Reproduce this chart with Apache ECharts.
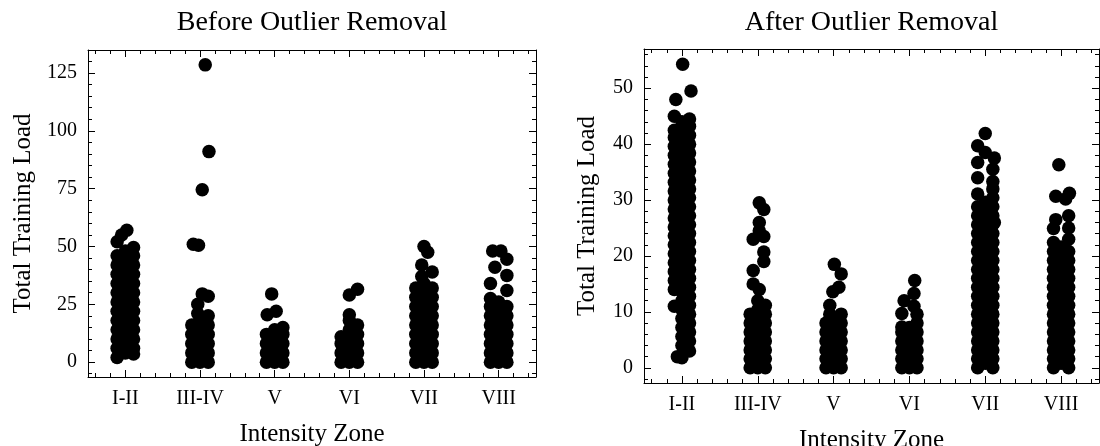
<!DOCTYPE html>
<html><head><meta charset="utf-8">
<script src="https://cdn.jsdelivr.net/npm/echarts@6/dist/echarts.min.js"></script>
<style>html,body{margin:0;padding:0;background:#fff}#c{width:1100px;height:446px}</style>
</head><body><div id="c"></div>
<script>
const categories = ['I-II', 'III-IV', 'V', 'VI', 'VII', 'VIII'];
const titles = ['Before Outlier Removal', 'After Outlier Removal'];
const xLabel = 'Intensity Zone';
const yLabel = 'Total Training Load';
const beforeTicks = [0, 25, 50, 75, 100, 125];
const afterTicks = [0, 10, 20, 30, 40, 50];

// each group: [jitter offset from the category centre, [Total Training Load values]]
const before_I_II = [
  [-0.11, [2, 6, 10, 14, 18, 22, 26, 30, 34, 38, 42, 46, 52]],
  [-0.05, [55]],
  [0, [4, 8, 12, 16, 20, 24, 28, 32, 36, 40, 44, 48]],
  [0.02, [57]],
  [0.11, [3.5, 6, 10, 14, 18, 22, 26, 30, 34, 38, 42, 46, 49.5]]
];
const before_III_IV = [
  [-0.11, [0, 4, 8, 12, 16]],
  [-0.09, [51]],
  [-0.03, [21, 25]],
  [-0.02, [50.5]],
  [0, [0, 2, 6, 10, 14, 18]],
  [0.03, [29.5, 74.5]],
  [0.07, [128.5]],
  [0.11, [0, 4, 8, 12, 16, 20, 28.5]],
  [0.12, [91]]
];
const before_V = [
  [-0.11, [0, 4, 8, 12]],
  [-0.1, [20.5]],
  [-0.04, [29.5]],
  [0, [0, 2, 6, 10, 14]],
  [0.02, [22]],
  [0.11, [0, 4, 8, 12, 15]]
];
const before_VI = [
  [-0.11, [0, 4, 8, 11]],
  [0, [0, 2, 6, 10, 14, 18, 20.5, 29]],
  [0.11, [0, 4, 8, 12, 16, 31.5]]
];
const before_VII = [
  [-0.11, [0, 4, 8, 12, 16, 20, 24, 28, 32]],
  [-0.03, [37, 42]],
  [0, [0, 2, 6, 10, 14, 18, 22, 26, 30, 34, 50]],
  [0.05, [47.5]],
  [0.11, [0, 4, 8, 12, 16, 20, 24, 28, 32, 39]]
];
const before_VIII = [
  [-0.11, [0, 4, 8, 12, 16, 20, 24, 27.5, 34]],
  [-0.08, [48]],
  [-0.05, [41]],
  [0, [0, 2, 6, 10, 14, 18, 22, 26]],
  [0.03, [48]],
  [0.11, [0, 4, 8, 12, 16, 20, 24, 31, 37.5, 44.5]]
];

const after_I_II = [
  [-0.1, [11, 14, 15.6, 17.2, 18.8, 20.4, 22, 23.6, 25.2, 26.8, 28.4, 30, 31.6, 33.2, 34.8, 36.4, 38, 39.6, 41.2, 42.5, 45]],
  [-0.08, [48]],
  [-0.06, [2]],
  [0, [1.8, 4, 5.6, 7.2, 8.8, 10.4, 12, 13.6, 15.2, 16.8, 18.4, 20, 21.6, 23.2, 24.8, 26.4, 28, 29.6, 31.2, 32.8, 34.4, 36, 37.6, 39.2, 40.8, 42.4, 44]],
  [0.01, [54.3]],
  [0.1, [3, 4.8, 6.4, 8, 9.6, 11.2, 12.8, 14.4, 16, 17.6, 19.2, 20.8, 22.4, 24, 25.6, 27.2, 28.8, 30.4, 32, 33.6, 35.2, 36.8, 38.4, 40, 41.6, 43.2, 44.5]],
  [0.12, [49.5]]
];
const after_III_IV = [
  [-0.1, [0, 1.6, 3.2, 4.8, 6.4, 8, 9.6]],
  [-0.06, [15, 17.4, 23]],
  [0, [0, 0.8, 2.4, 4, 5.6, 7.2, 8.8, 10.4, 12]],
  [0.02, [14, 24.5, 26, 29.5]],
  [0.08, [19, 20.7, 23.5, 28.3]],
  [0.1, [0, 1.6, 3.2, 4.8, 6.4, 8, 9.6, 11.2]]
];
const after_V = [
  [-0.1, [0, 1.6, 3.2, 4.8, 6.4, 8]],
  [-0.05, [9.6, 11.2]],
  [-0.01, [13.6]],
  [0, [0, 0.8, 2.4, 4, 5.6, 7.2, 8.8]],
  [0.01, [18.5]],
  [0.07, [14.4]],
  [0.1, [0, 1.6, 3.2, 4.8, 6.4, 8, 9.6, 16.8]]
];
const after_VI = [
  [-0.1, [0, 1.6, 3.2, 4.8, 6.4, 7.3, 9.7]],
  [-0.07, [12]],
  [0, [0, 0.8, 2.4, 4, 5.6, 7.2]],
  [0.06, [11, 13.3]],
  [0.07, [15.6]],
  [0.1, [0, 1.6, 3.2, 4.8, 6.4, 8, 9.6]]
];
const after_VII = [
  [-0.1, [0, 1.6, 3.2, 4.8, 6.4, 8, 9.6, 11.2, 12.8, 14.4, 16, 17.6, 19.2, 20.8, 22.4, 24, 25.6, 27.2, 28.8, 31.1, 34, 36.7, 39.7]],
  [0, [0.8, 2.4, 4, 5.6, 7.2, 8.8, 10.4, 12, 13.6, 15.2, 16.8, 18.4, 20, 21.6, 23.2, 24.8, 26.4, 28, 29.6, 38.5, 41.9]],
  [0.1, [0, 1.6, 3.2, 4.8, 6.4, 8, 9.6, 11.2, 12.8, 14.4, 16, 17.6, 19.2, 20.8, 22.4, 24, 25.6, 27.2, 28.8, 30.4, 32, 33.3, 35.5]],
  [0.12, [26, 37.5]]
];
const after_VIII = [
  [-0.1, [0, 1.6, 3.2, 4.8, 6.4, 8, 9.6, 11.2, 12.8, 14.4, 16, 17.6, 19.2, 20.8, 22.4, 24.9]],
  [-0.07, [26.5, 30.7]],
  [-0.03, [36.3]],
  [0, [0.8, 2.4, 4, 5.6, 7.2, 8.8, 10.4, 12, 13.6, 15.2, 16.8, 18.4, 20, 21.6]],
  [0.06, [30.2]],
  [0.1, [0, 1.6, 3.2, 4.8, 6.4, 8, 9.6, 11.2, 12.8, 14.4, 16, 17.6, 19.2, 20.8, 23, 25, 27.2]],
  [0.11, [31.2]]
];

const beforeGroups = [before_I_II, before_III_IV, before_V, before_VI, before_VII, before_VIII];
const afterGroups = [after_I_II, after_III_IV, after_V, after_VI, after_VII, after_VIII];

const FONT = "'Liberation Serif', 'Times New Roman', serif";
const BLACK = '#000';

function toPoints(groups) {
  const pts = [];
  groups.forEach((cat, i) => cat.forEach(([dx, vals]) => vals.forEach(v => pts.push([i + dx, v]))));
  return pts;
}
function minorValues(lo, hi, step, majorStep) {
  const out = [];
  const start = Math.ceil(lo / step) * step;
  for (let k = 0; start + k * step <= hi + 1e-9; k++) {
    const v = Math.round((start + k * step) * 1000) / 1000;
    const r = v / majorStep;
    if (Math.abs(r - Math.round(r)) > 1e-6) out.push(v);
  }
  return out;
}

const panels = [
  { grid: { left: 88, top: 50, width: 448, height: 327 }, title: titles[0], groups: beforeGroups,
    ticks: beforeTicks, minorStep: 5, majorStep: 25, yNameGap: 52 },
  { grid: { left: 644, top: 49, width: 455, height: 334 }, title: titles[1], groups: afterGroups,
    ticks: afterTicks, minorStep: 2, majorStep: 10, yNameGap: 44 }
];

const grids = [], xAxes = [], yAxes = [], series = [], graphics = [];
const xMajor = categories.map((c, i) => i);
const xMinor = minorValues(-0.5, 5.5, 0.2, 1);
const lineStyle = { color: BLACK, width: 1 };

panels.forEach((p, gi) => {
  grids.push(Object.assign({ containLabel: false, outerBoundsMode: 'none' }, p.grid));
  const pts = toPoints(p.groups);
  const ys = pts.map(d => d[1]);
  const dmin = Math.min(...ys), dmax = Math.max(...ys);
  const pad = 0.05 * (dmax - dmin);
  const ymin = dmin - pad, ymax = dmax + pad;
  const yMinor = minorValues(ymin, ymax, p.minorStep, p.majorStep);

  const xb = { type: 'value', gridIndex: gi, min: -0.5, max: 5.5, splitLine: { show: false } };
  const xi = xAxes.length;
  xAxes.push(Object.assign({}, xb, {
    position: 'bottom',
    axisLine: { show: true, onZero: false, lineStyle },
    axisTick: { show: true, inside: true, length: 7, customValues: xMajor, lineStyle },
    axisLabel: { show: true, customValues: xMajor, formatter: v => categories[Math.round(v)],
      fontSize: 20, fontFamily: FONT, color: BLACK, margin: 12 },
    name: xLabel, nameLocation: 'middle', nameGap: 45, nameMoveOverlap: false,
    nameTextStyle: { fontSize: 25, fontFamily: FONT, color: BLACK }
  }));
  xAxes.push(Object.assign({}, xb, {
    position: 'top', axisLine: { show: true, onZero: false, lineStyle },
    axisTick: { show: true, inside: true, length: 7, customValues: xMajor, lineStyle },
    axisLabel: { show: false, customValues: xMajor }
  }));
  xAxes.push(Object.assign({}, xb, {
    position: 'bottom', axisLine: { show: false, onZero: false },
    axisTick: { show: true, inside: true, length: 4, customValues: xMinor, lineStyle },
    axisLabel: { show: false, customValues: xMinor }
  }));
  xAxes.push(Object.assign({}, xb, {
    position: 'top', axisLine: { show: false, onZero: false },
    axisTick: { show: true, inside: true, length: 4, customValues: xMinor, lineStyle },
    axisLabel: { show: false, customValues: xMinor }
  }));

  const yb = { type: 'value', gridIndex: gi, min: ymin, max: ymax, splitLine: { show: false } };
  const yi = yAxes.length;
  yAxes.push(Object.assign({}, yb, {
    position: 'left',
    axisLine: { show: true, onZero: false, lineStyle },
    axisTick: { show: true, inside: true, length: 7, customValues: p.ticks, lineStyle },
    axisLabel: { show: true, customValues: p.ticks, fontSize: 20, fontFamily: FONT, color: BLACK, margin: 11 },
    name: yLabel, nameLocation: 'middle', nameGap: p.yNameGap, nameMoveOverlap: false,
    nameTextStyle: { fontSize: 25, fontFamily: FONT, color: BLACK }
  }));
  yAxes.push(Object.assign({}, yb, {
    position: 'right', axisLine: { show: true, onZero: false, lineStyle },
    axisTick: { show: true, inside: true, length: 7, customValues: p.ticks, lineStyle },
    axisLabel: { show: false, customValues: p.ticks }
  }));
  yAxes.push(Object.assign({}, yb, {
    position: 'left', axisLine: { show: false, onZero: false },
    axisTick: { show: true, inside: true, length: 4, customValues: yMinor, lineStyle },
    axisLabel: { show: false, customValues: yMinor }
  }));
  yAxes.push(Object.assign({}, yb, {
    position: 'right', axisLine: { show: false, onZero: false },
    axisTick: { show: true, inside: true, length: 4, customValues: yMinor, lineStyle },
    axisLabel: { show: false, customValues: yMinor }
  }));

  series.push({
    type: 'scatter', xAxisIndex: xi, yAxisIndex: yi, data: pts,
    symbol: 'circle', symbolSize: 13.5, itemStyle: { color: BLACK, opacity: 1 },
    silent: true, animation: false
  });

  graphics.push({
    type: 'text', x: p.grid.left + p.grid.width / 2, y: 23,
    style: { text: p.title, textAlign: 'center', textVerticalAlign: 'middle',
      fontSize: 28, fontFamily: FONT, fill: BLACK }
  });
});

const chart = echarts.init(document.getElementById('c'), null, { renderer: 'canvas' });
chart.setOption({
  animation: false,
  backgroundColor: '#fff',
  grid: grids,
  xAxis: xAxes,
  yAxis: yAxes,
  series,
  graphic: graphics
});
</script>
</body></html>
